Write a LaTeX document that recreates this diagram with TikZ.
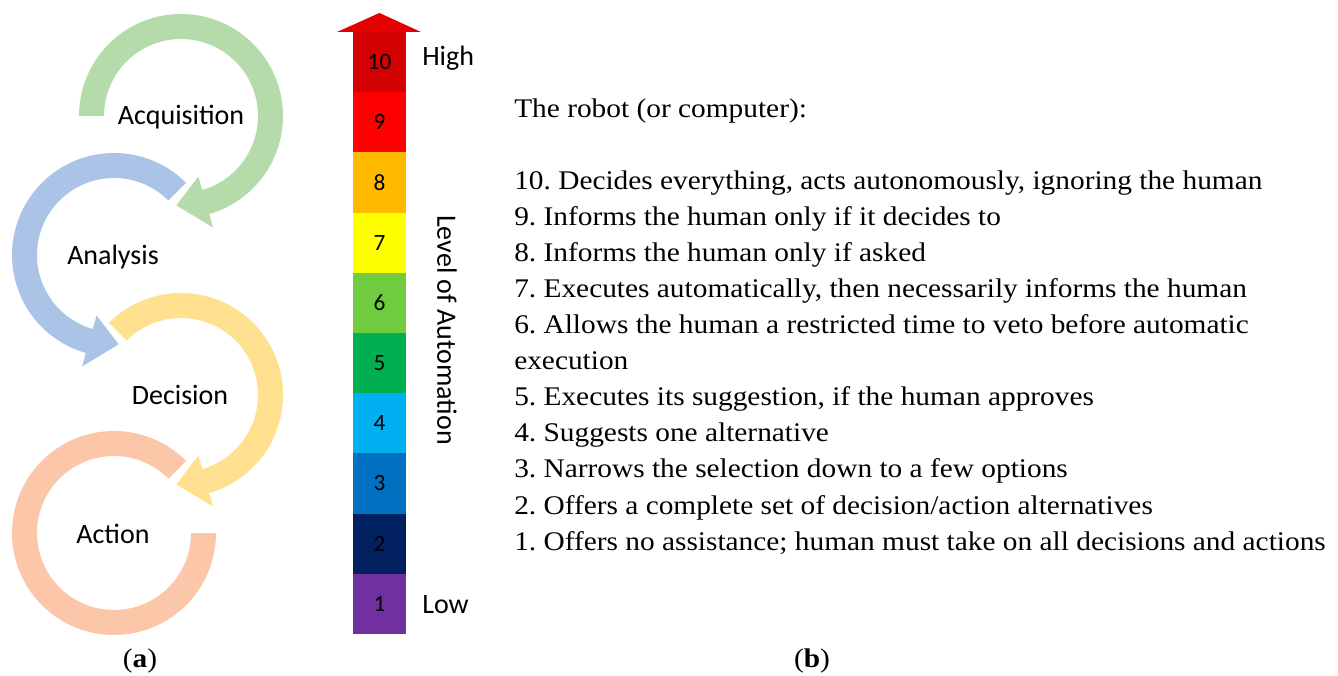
\documentclass[tikz,border=0pt]{standalone}
\usepackage{fontspec}
\newfontfamily\calib{Carlito}
\newfontfamily\palfont[FakeStretch=1.09]{Liberation Serif}
\definecolor{rgreen}{HTML}{B6DBAB}
\definecolor{rblue}{HTML}{AAC3E6}
\definecolor{ryellow}{HTML}{FFE08F}
\definecolor{rorange}{HTML}{FCC7A8}
\definecolor{arrred}{HTML}{E20000}
\definecolor{c10}{HTML}{D20000}
\definecolor{c9}{HTML}{FF0000}
\definecolor{c8}{HTML}{FFBA00}
\definecolor{c7}{HTML}{FFFF00}
\definecolor{c6}{HTML}{6ECC3E}
\definecolor{c5}{HTML}{00B050}
\definecolor{c4}{HTML}{00B0F0}
\definecolor{c3}{HTML}{0070C0}
\definecolor{c2}{HTML}{002060}
\definecolor{c1}{HTML}{7030A0}
\tikzset{
  lbl/.style={font=\calib\fontsize{21}{25}\selectfont, inner sep=0pt},
  num/.style={font=\calib\fontsize{17.5}{20}\selectfont, inner sep=0pt},
  item/.style={font=\palfont\fontsize{20.2}{24}\selectfont\frenchspacing, anchor=base west, inner sep=0pt},
  capt/.style={font=\palfont\fontsize{20.2}{24}\selectfont, anchor=base, inner sep=0pt}
}
\begin{document}
\begin{tikzpicture}[x=0.75pt,y=0.75pt]
\useasboundingbox (0,0) rectangle (1338,675);
% ---- cycle arrows ----
\fill[rgreen, shift={(181,559)}] (180:102) arc[start angle=180,end angle=-74,radius=102]
  -- (-74:116) -- (-93:89.5) -- (-74:63) -- (-74:77)
  arc[start angle=-74,end angle=180,radius=77] -- cycle;
\fill[rblue, shift={(114,420)}] (45:102) arc[start angle=45,end angle=254,radius=102]
  -- (254:116) -- (273:89.5) -- (254:63) -- (254:77)
  arc[start angle=254,end angle=45,radius=77] -- cycle;
\fill[ryellow, shift={(181,280)}] (135:102) arc[start angle=135,end angle=-74,radius=102]
  -- (-74:116) -- (-93:89.5) -- (-74:63) -- (-74:77)
  arc[start angle=-74,end angle=135,radius=77] -- cycle;
\fill[rorange, shift={(114,142)}] (45:102) arc[start angle=45,end angle=360,radius=102]
  -- (0:77) arc[start angle=360,end angle=45,radius=77] -- cycle;
\node[lbl] (acq) at (181,558) {Acquisition};
\node[lbl] (ana) at (113,418) {Analysis};
\node[lbl] (dec) at (180,280) {Decision};
\node[lbl] (act) at (113,141) {Action};
% ---- level bar ----
\fill[arrred] (337,643) -- (379.5,662) -- (421,643) -- cycle;
\foreach \i in {1,...,10} {
  \fill[c\i] (353,{41+(\i-1)*60.2}) rectangle (406,{41+\i*60.2});
  \node[num] (n\i) at (379.5,{41+(\i-0.5)*60.2}) {\i};
}
\node[lbl, anchor=base west] (high) at (422,609) {High};
\node[lbl, anchor=base west] (low) at (422,62) {Low};
\node[lbl, rotate=-90] (loa) at (447,345) {Level of Automation};
% ---- list ----
\node[item] (t0) at (514,557) {The robot (or computer):};
\node[item] (t10) at (514,485) {10. Decides everything, acts autonomously, ignoring the human};
\node[item] (t9) at (514,449) {9. Informs the human only if it decides to};
\node[item] (t8) at (514,413) {8. Informs the human only if asked};
\node[item] (t7) at (514,377) {7. Executes automatically, then necessarily informs the human};
\node[item] (t6) at (514,341) {6. Allows the human a restricted time to veto before automatic};
\node[item] (t6b) at (514,305) {execution};
\node[item] (t5) at (514,269) {5. Executes its suggestion, if the human approves};
\node[item] (t4) at (514,233) {4. Suggests one alternative};
\node[item] (t3) at (514,197) {3. Narrows the selection down to a few options};
\node[item] (t2) at (514,161) {2. Offers a complete set of decision/action alternatives};
\node[item] (t1) at (514,125) {1. Offers no assistance; human must take on all decisions and actions};
% ---- captions ----
\node[capt] (ca) at (140,8) {(\textbf{a})};
\node[capt] (cb) at (812,8) {(\textbf{b})};
\end{tikzpicture}
\end{document}
